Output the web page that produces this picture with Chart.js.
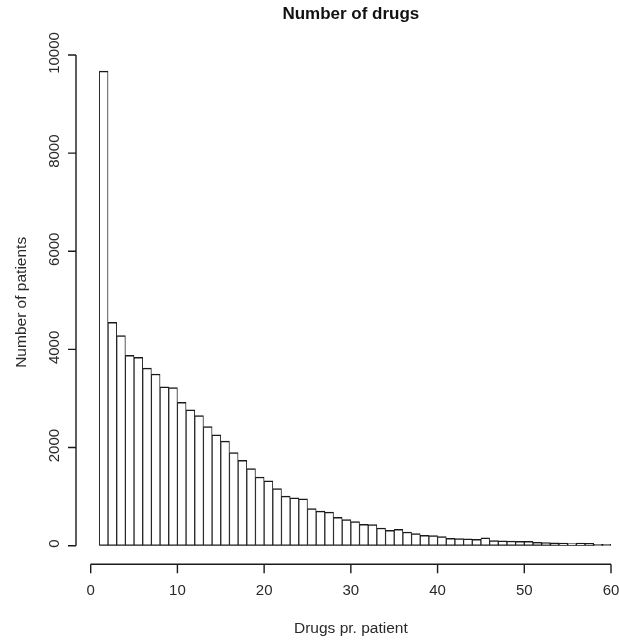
<!DOCTYPE html>
<html>
<head>
<meta charset="utf-8">
<script src="https://cdn.jsdelivr.net/npm/chart.js@4"></script>
<style>
  body { margin: 0; background: #fff; }
  #wrap { width: 619px; height: 640px; }
</style>
</head>
<body>
<div id="wrap"><canvas id="histChart" width="619" height="640"></canvas></div>
<script>
// histogram bins: left edge of each bin (width 1)
const binStarts = [1, 2, 3, 4, 5, 6, 7, 8, 9, 10, 11, 12, 13, 14, 15, 16, 17, 18, 19, 20,
  21, 22, 23, 24, 25, 26, 27, 28, 29, 30, 31, 32, 33, 34, 35, 36, 37, 38, 39, 40,
  41, 42, 43, 44, 45, 46, 47, 48, 49, 50, 51, 52, 53, 54, 55, 56, 57, 58, 59];
// number of patients in each bin
const patientCounts = [9670, 4550, 4280, 3880, 3840, 3620, 3500, 3240, 3220, 2920,
  2770, 2650, 2430, 2260, 2130, 1900, 1740, 1570, 1400, 1320,
  1165, 1010, 975, 955, 755, 705, 685, 580, 530, 490,
  435, 428, 360, 315, 335, 280, 245, 212, 204, 188,
  150, 145, 140, 130, 160, 105, 100, 95, 90, 88,
  70, 65, 60, 55, 45, 55, 50, 30, 30];
const xTicks = [0, 10, 20, 30, 40, 50, 60];
const yTicks = [0, 2000, 4000, 6000, 8000, 10000];

const titleText = 'Number of drugs';
const xTitle = 'Drugs pr. patient';
const yTitle = 'Number of patients';

const lineColor = '#1a1a1a';
const textColor = '#2a2a2a';
const fontFamily = '"Liberation Sans", Arial, sans-serif';

// R-style detached axes, drawn from the chart's own scales
const rAxes = {
  id: 'rAxes',
  afterDraw(chart) {
    const ctx = chart.ctx;
    const area = chart.chartArea;
    const xs = chart.scales.x;
    const ys = chart.scales.y;
    ctx.save();
    ctx.strokeStyle = lineColor;
    ctx.lineWidth = 1.4;
    ctx.fillStyle = textColor;

    // x axis
    const axY = area.bottom + 18.5;
    ctx.beginPath();
    ctx.moveTo(xs.getPixelForValue(xTicks[0]), axY);
    ctx.lineTo(xs.getPixelForValue(xTicks[xTicks.length - 1]), axY);
    xTicks.forEach(v => {
      const px = xs.getPixelForValue(v);
      ctx.moveTo(px, axY);
      ctx.lineTo(px, axY + 9);
    });
    ctx.stroke();
    ctx.font = '15px ' + fontFamily;
    ctx.textAlign = 'center';
    ctx.textBaseline = 'middle';
    xTicks.forEach(v => {
      ctx.fillText(String(v), xs.getPixelForValue(v), axY + 27);
    });

    // y axis
    const axX = area.left - 14.7;
    ctx.beginPath();
    ctx.moveTo(axX, ys.getPixelForValue(yTicks[0]));
    ctx.lineTo(axX, ys.getPixelForValue(yTicks[yTicks.length - 1]));
    yTicks.forEach(v => {
      const py = ys.getPixelForValue(v);
      ctx.moveTo(axX, py);
      ctx.lineTo(axX - 8, py);
    });
    ctx.stroke();
    yTicks.forEach(v => {
      ctx.save();
      ctx.translate(area.left - 36, ys.getPixelForValue(v) - 2);
      ctx.rotate(-Math.PI / 2);
      ctx.fillText(String(v), 0, 0);
      ctx.restore();
    });

    // titles
    const midX = (area.left + area.right) / 2;
    ctx.font = '15.5px ' + fontFamily;
    ctx.fillText(xTitle, midX, area.bottom + 83);
    ctx.save();
    ctx.translate(22, (area.top + area.bottom) / 2 + 2);
    ctx.rotate(-Math.PI / 2);
    ctx.fillText(yTitle, 0, 0);
    ctx.restore();
    ctx.font = 'bold 17px ' + fontFamily;
    ctx.fillStyle = '#111';
    ctx.fillText(titleText, midX, 14);
    ctx.restore();
  }
};

const barData = binStarts.map((b, i) => ({ x: b + 0.5, y: patientCounts[i] }));

new Chart(document.getElementById('histChart'), {
  type: 'bar',
  data: {
    datasets: [{
      data: barData,
      backgroundColor: '#ffffff',
      borderColor: lineColor,
      borderWidth: { top: 1.5, bottom: 1.5, left: 0.95, right: 0.95 },
      borderSkipped: false,
      barPercentage: 1,
      categoryPercentage: 1
    }]
  },
  options: {
    responsive: false,
    animation: false,
    layout: { padding: { left: 90.7, right: 8, top: 55, bottom: 94.3 } },
    plugins: {
      legend: { display: false },
      title: { display: false },
      tooltip: { enabled: false }
    },
    scales: {
      x: { type: 'linear', min: 0, max: 60, offset: false, display: false },
      y: { min: 0, max: 10000, display: false }
    }
  },
  plugins: [rAxes]
});
</script>
</body>
</html>
